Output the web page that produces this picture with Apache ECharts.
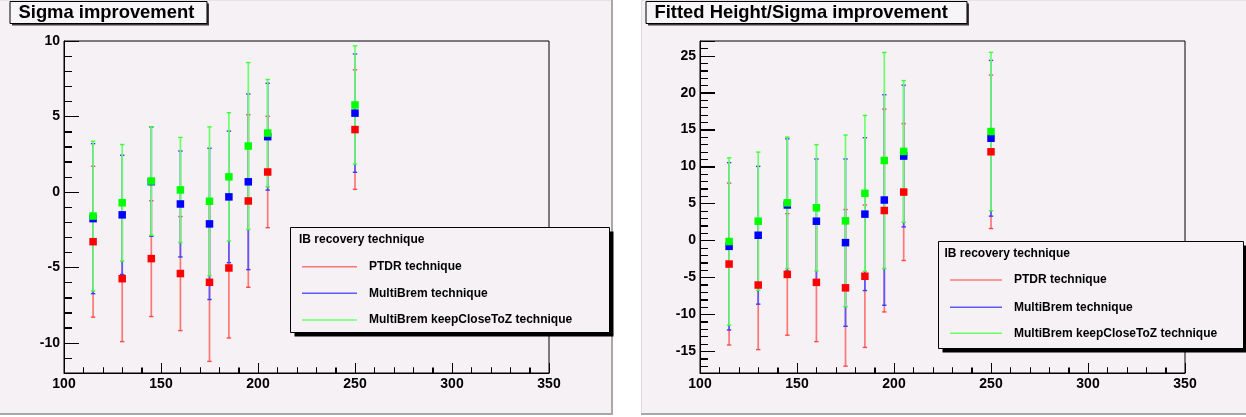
<!DOCTYPE html>
<html>
<head>
<meta charset="utf-8">
<script src="https://cdn.jsdelivr.net/npm/echarts@6/dist/echarts.min.js"></script>
<style>
html,body{margin:0;padding:0;background:#ffffff;}
#chart{width:1246px;height:417px;}
</style>
</head>
<body>
<div id="chart"></div>
<script>
// ---------------- data ----------------
const xValues = [115, 130, 145, 160, 175, 185, 195, 205, 250];
const techniqueNames = ['PTDR technique', 'MultiBrem technique', 'MultiBrem keepCloseToZ technique'];
const legendTitle = 'IB recovery technique';
const panelTitles = ['Sigma improvement', 'Fitted Height/Sigma improvement'];
const xTickLabels = ['100', '150', '200', '250', '300', '350'];
const yTickLabelsLeft = ['-10', '-5', '0', '5', '10'];
const yTickLabelsRight = ['-15', '-10', '-5', '0', '5', '10', '15', '20', '25'];

// Panel 1: Sigma improvement
const sigmaPTDR        = [-3.30, -5.75, -4.42, -5.41, -5.99, -5.04, -0.60, 1.32, 4.13];
const sigmaPTDRErr     = [ 5.00,  4.17,  3.84,  3.78,  5.24,  4.64,  5.72, 3.69, 3.96];
const sigmaMulti       = [-1.77, -1.52,  0.68, -0.80, -2.12, -0.33,  0.67, 3.66, 5.22];
const sigmaMultiErr    = [ 4.97,  3.95,  3.62,  3.51,  5.01,  4.36,  5.82, 3.54, 3.92];
const sigmaKeep        = [-1.60, -0.72,  0.72,  0.13, -0.62,  1.00,  3.04, 3.90, 5.76];
const sigmaKeepErr     = [ 4.96,  3.86,  3.60,  3.48,  4.93,  4.25,  5.53, 3.55, 3.92];

// Panel 2: Fitted Height/Sigma improvement
const heightPTDR       = [-3.20, -6.04, -4.60, -5.68, -6.42, -4.85,  4.05,  6.55, 12.00];
const heightPTDRErr    = [10.96,  8.74,  8.23,  8.02, 10.60,  9.64, 13.73,  9.27, 10.39];
const heightMulti      = [-0.80,  0.70,  4.80,  2.60, -0.30,  3.56,  5.47, 11.42, 13.83];
const heightMultiErr   = [11.33,  9.33,  8.96,  8.43, 11.33, 10.35, 14.25,  9.59, 10.54];
const heightKeep       = [-0.15,  2.60,  5.09,  4.42,  2.65,  6.37, 10.82, 12.05, 14.74];
const heightKeepErr    = [11.33,  9.36,  8.90,  8.55, 11.62, 10.55, 14.63,  9.59, 10.72];

// ---------------- styles ----------------
const markerColors = ['#ff0000', '#0000ff', '#00ff00'];
const barColors = ['#ff7676', '#5a5aff', '#6cff6c'];
const capColors = ['#ff4a4a', '#3a3aff', '#3cff3c'];
const padColor = '#f5f1f5';
const FONT = '"Liberation Sans", Arial, Helvetica, sans-serif';

const panels = [
  { values: [sigmaPTDR, sigmaMulti, sigmaKeep], errs: [sigmaPTDRErr, sigmaMultiErr, sigmaKeepErr],
    xmin: 100, xmax: 350, ymin: -12, ymax: 10, yLabels: yTickLabelsLeft },
  { values: [heightPTDR, heightMulti, heightKeep], errs: [heightPTDRErr, heightMultiErr, heightKeepErr],
    xmin: 100, xmax: 350, ymin: -17.95, ymax: 27, yLabels: yTickLabelsRight }
];

const labelStyle = { color: '#000', fontWeight: 'bold', fontSize: 14, fontFamily: FONT, margin: 4 };

function makeXAxis(gi, p) {
  return {
    type: 'value', gridIndex: gi, min: p.xmin, max: p.xmax, interval: 50, position: 'bottom',
    axisLine: { show: true, onZero: false, lineStyle: { color: '#000' } },
    axisTick: { show: true, inside: true, length: 10, lineStyle: { color: '#000' } },
    minorTick: { show: true, splitNumber: 5, length: 5.5, lineStyle: { color: '#000' } },
    splitLine: { show: false },
    axisLabel: Object.assign({
      formatter: function (v) { const s = String(v); return xTickLabels.indexOf(s) >= 0 ? s : ''; }
    }, labelStyle)
  };
}
function makeYAxis(gi, p) {
  return {
    type: 'value', gridIndex: gi, min: p.ymin, max: p.ymax, minInterval: 5, maxInterval: 5, position: 'left',
    axisLine: { show: true, onZero: false, lineStyle: { color: '#000' } },
    axisTick: { show: true, inside: true, length: 15, lineStyle: { color: '#000' } },
    minorTick: { show: true, splitNumber: 5, length: 8, lineStyle: { color: '#000' } },
    splitLine: { show: false },
    axisLabel: Object.assign({
      formatter: function (v) { const s = String(v); return p.yLabels.indexOf(s) >= 0 ? s : ''; }
    }, labelStyle)
  };
}

const series = [];
panels.forEach(function (p, gi) {
  for (let t = 0; t < 3; t++) {
    const data = xValues.map(function (x, i) { return [x, p.values[t][i], p.errs[t][i]]; });
    series.push({
      type: 'custom', name: techniqueNames[t], xAxisIndex: gi, yAxisIndex: gi,
      data: data, silent: true, z: 6,
      renderItem: (function (tt) {
        return function (params, api) {
          const x = api.value(0), y = api.value(1), e = api.value(2);
          const top = api.coord([x, y + e]);
          const bot = api.coord([x, y - e]);
          return {
            type: 'group', children: [
              { type: 'line', shape: { x1: top[0], y1: top[1], x2: bot[0], y2: bot[1] }, style: { stroke: barColors[tt], lineWidth: 1.7 } },
              { type: 'line', shape: { x1: top[0] - 2.2, y1: top[1], x2: top[0] + 2.2, y2: top[1] }, style: { stroke: capColors[tt], lineWidth: 1.4 } },
              { type: 'line', shape: { x1: bot[0] - 2.2, y1: bot[1], x2: bot[0] + 2.2, y2: bot[1] }, style: { stroke: capColors[tt], lineWidth: 1.4 } }
            ]
          };
        };
      })(t)
    });
  }
  for (let t = 0; t < 3; t++) {
    const data = xValues.map(function (x, i) { return [x, p.values[t][i]]; });
    series.push({
      type: 'scatter', name: techniqueNames[t], xAxisIndex: gi, yAxisIndex: gi,
      data: data, symbol: 'rect', symbolSize: 7.5, silent: true, z: 7,
      itemStyle: { color: markerColors[t], opacity: 1 }
    });
  }
});

// pads: the chart background is the pad colour; only the white gaps and bevel lines are drawn
function padFrame() {
  return [
    { type: 'rect', silent: true, shape: { x: 613, y: 0, width: 28, height: 417 }, style: { fill: '#ffffff' } },
    { type: 'rect', silent: true, shape: { x: 0, y: 415, width: 1246, height: 2 }, style: { fill: '#ffffff' } },
    { type: 'line', silent: true, shape: { x1: 612, y1: 0, x2: 612, y2: 415 }, style: { stroke: '#a8a8a8', lineWidth: 2 } },
    { type: 'line', silent: true, shape: { x1: 0, y1: 414, x2: 613, y2: 414 }, style: { stroke: '#a8a8a8', lineWidth: 2 } },
    { type: 'line', silent: true, shape: { x1: 641, y1: 414, x2: 1246, y2: 414 }, style: { stroke: '#a8a8a8', lineWidth: 2 } },
    { type: 'line', silent: true, shape: { x1: 641.5, y1: 0, x2: 641.5, y2: 413 }, style: { stroke: '#dcdcdc', lineWidth: 1 } },
    { type: 'line', silent: true, shape: { x1: 0, y1: 0.5, x2: 611, y2: 0.5 }, style: { stroke: '#e4e4e4', lineWidth: 1 } },
    { type: 'line', silent: true, shape: { x1: 641, y1: 0.5, x2: 1246, y2: 0.5 }, style: { stroke: '#e4e4e4', lineWidth: 1 } }
  ];
}

function titleBox(x, w, text) {
  return [
    { type: 'rect', z: 50, shape: { x: x + 2.5, y: 3.5, width: w, height: 22 }, style: { fill: '#3a3a3a' } },
    { type: 'rect', z: 51, shape: { x: x + 0.5, y: 1.5, width: w, height: 22 }, style: { fill: '#f7f5f7', stroke: '#000', lineWidth: 1 } },
    { type: 'text', z: 52, x: x + 9, y: 13, style: { text: text, fill: '#000', font: 'bold 18.4px ' + FONT, textVerticalAlign: 'middle', textAlign: 'left' } }
  ];
}

function legendBox(bx, by, bw, bh, headerX, headerY, lineX1, lineX2, textX, rowYs) {
  const els = [
    { type: 'rect', z: 60, shape: { x: bx + 4, y: by + 4, width: bw, height: bh }, style: { fill: '#000' } },
    { type: 'rect', z: 61, shape: { x: bx, y: by, width: bw, height: bh }, style: { fill: padColor, stroke: '#000', lineWidth: 1 } },
    { type: 'text', z: 62, x: headerX, y: headerY, style: { text: legendTitle, fill: '#000', font: 'bold 12px ' + FONT, textVerticalAlign: 'middle' } }
  ];
  for (let t = 0; t < 3; t++) {
    els.push({ type: 'line', z: 62, shape: { x1: lineX1, y1: rowYs[t], x2: lineX2, y2: rowYs[t] }, style: { stroke: barColors[t], lineWidth: 1.6 } });
    els.push({ type: 'text', z: 62, x: textX, y: rowYs[t], style: { text: techniqueNames[t], fill: '#000', font: 'bold 12px ' + FONT, textVerticalAlign: 'middle' } });
  }
  return els;
}

const baseGraphics = []
  .concat(padFrame())
  .concat(titleBox(9.5, 197, panelTitles[0]))
  .concat(titleBox(645.5, 321, panelTitles[1]))
  .concat(legendBox(290.5, 227.5, 319, 105, 299, 240, 302, 357, 369, [266.7, 293.3, 320]))
  .concat(legendBox(938.5, 241.5, 305, 107, 944.5, 254, 950, 1002, 1014, [280, 307.3, 333.3]));

const chart = echarts.init(document.getElementById('chart'));
chart.setOption({
  animation: false,
  backgroundColor: padColor,
  grid: [
    { left: 64, top: 41, width: 485, height: 332, show: true, borderColor: '#000', borderWidth: 1, backgroundColor: 'transparent' },
    { left: 700, top: 41, width: 485, height: 332, show: true, borderColor: '#000', borderWidth: 1, backgroundColor: 'transparent' }
  ],
  xAxis: [makeXAxis(0, panels[0]), makeXAxis(1, panels[1])],
  yAxis: [makeYAxis(0, panels[0]), makeYAxis(1, panels[1])],
  series: series,
  graphic: baseGraphics
});

// ROOT-style inward ticks, placed through the axes' own pixel conversion (drawn on an upper layer)
const tickGraphics = [];
panels.forEach(function (p, gi) {
  const finder = { xAxisIndex: gi, yAxisIndex: gi };
  for (let v = Math.ceil(p.xmin / 10) * 10; v <= p.xmax; v += 10) {
    const c = chart.convertToPixel(finder, [v, p.ymin]);
    if (!c || isNaN(c[0])) continue;
    const x = Math.round(c[0]) + 0.5, len = (v % 50 === 0) ? 10 : 5.5;
    tickGraphics.push({ type: 'line', zlevel: 1, silent: true, shape: { x1: x, y1: c[1], x2: x, y2: c[1] - len }, style: { stroke: '#000', lineWidth: 1 } });
  }
  for (let v = Math.ceil(p.ymin); v <= p.ymax; v += 1) {
    const c = chart.convertToPixel(finder, [p.xmin, v]);
    if (!c || isNaN(c[1])) continue;
    const y = Math.round(c[1]) + 0.5, len = (v % 5 === 0) ? 15 : 8;
    tickGraphics.push({ type: 'line', zlevel: 1, silent: true, shape: { x1: c[0], y1: y, x2: c[0] + len, y2: y }, style: { stroke: '#000', lineWidth: 1 } });
  }
});
chart.setOption({ graphic: baseGraphics.concat(tickGraphics) });
</script>
</body>
</html>
